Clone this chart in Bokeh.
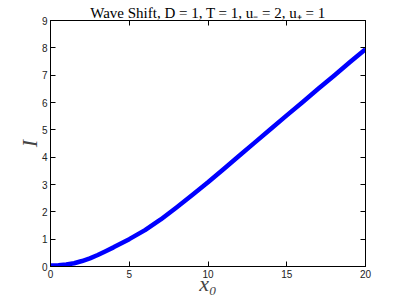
from bokeh.plotting import figure
from bokeh.models import LinearAxis, Range1d, FixedTicker
from bokeh.embed import file_html
from bokeh.resources import INLINE

x0 = [0, 0.5, 1, 1.5, 2, 2.5, 3, 3.5, 4, 4.5, 5, 6, 7, 8, 9, 10,
      11, 12, 13, 14, 15, 16, 17, 18, 19, 20]
I_vals = [0.04, 0.05, 0.07, 0.12, 0.2, 0.3, 0.42, 0.56, 0.7, 0.85, 1.0,
          1.33, 1.72, 2.16, 2.62, 3.08, 3.57, 4.06, 4.55, 5.04, 5.53,
          6.01, 6.5, 6.98, 7.47, 7.95]
x_ticks = [0, 5, 10, 15, 20]
y_ticks = [0, 1, 2, 3, 4, 5, 6, 7, 8, 9]
title_text = "Wave Shift, D = 1, T = 1, u\u208b = 2, u\u208a = 1"

p = figure(frame_width=315, frame_height=246, output_backend="svg", toolbar_location=None,
           x_range=Range1d(0, 20), y_range=Range1d(0, 9),
           min_border_left=50, min_border_right=26, min_border_top=20, min_border_bottom=31,
           x_axis_location=None, y_axis_location=None)
p.title.text = title_text
p.title.align = "center"
p.title.text_font = "Liberation Serif"
p.title.text_font_style = "normal"
p.title.text_font_size = "15px"
p.title.text_color = "black"
p.title.standoff = 0
p.title.offset = 0

p.xgrid.visible = False
p.ygrid.visible = False
p.outline_line_color = "black"
p.outline_line_width = 1
p.outline_line_alpha = 1

def style(ax, labels=True):
    ax.major_tick_in = 5
    ax.major_tick_out = 0
    ax.minor_tick_line_color = None
    ax.axis_line_color = "black"
    ax.major_tick_line_color = "black"
    ax.major_label_text_font = "Liberation Sans"
    if labels:
        ax.major_label_text_font_size = "10px"
        ax.major_label_text_color = "#222222"
        ax.major_label_standoff = 3
    else:
        ax.major_label_text_font_size = "0px"
        ax.major_label_text_color = None
        ax.major_label_standoff = 0

xb = LinearAxis(ticker=FixedTicker(ticks=x_ticks))
style(xb)
xb.axis_label = "x\u2080"
xb.axis_label_text_font = "Liberation Serif"
xb.axis_label_text_font_style = "italic"
xb.axis_label_text_font_size = "22px"
xb.axis_label_standoff = -10
p.add_layout(xb, "below")

yl = LinearAxis(ticker=FixedTicker(ticks=y_ticks))
style(yl)
yl.axis_label = "I"
yl.axis_label_text_font = "Liberation Serif"
yl.axis_label_text_font_style = "italic"
yl.axis_label_text_font_size = "22px"
yl.axis_label_standoff = -3
p.add_layout(yl, "left")

xt = LinearAxis(ticker=FixedTicker(ticks=x_ticks))
style(xt, labels=False)
p.add_layout(xt, "above")
yr = LinearAxis(ticker=FixedTicker(ticks=y_ticks))
style(yr, labels=False)
p.add_layout(yr, "right")

p.line(x0, I_vals, line_color="#0000ff", line_width=4.5, line_join="round")

open("out.html", "w").write(file_html(p, INLINE))
